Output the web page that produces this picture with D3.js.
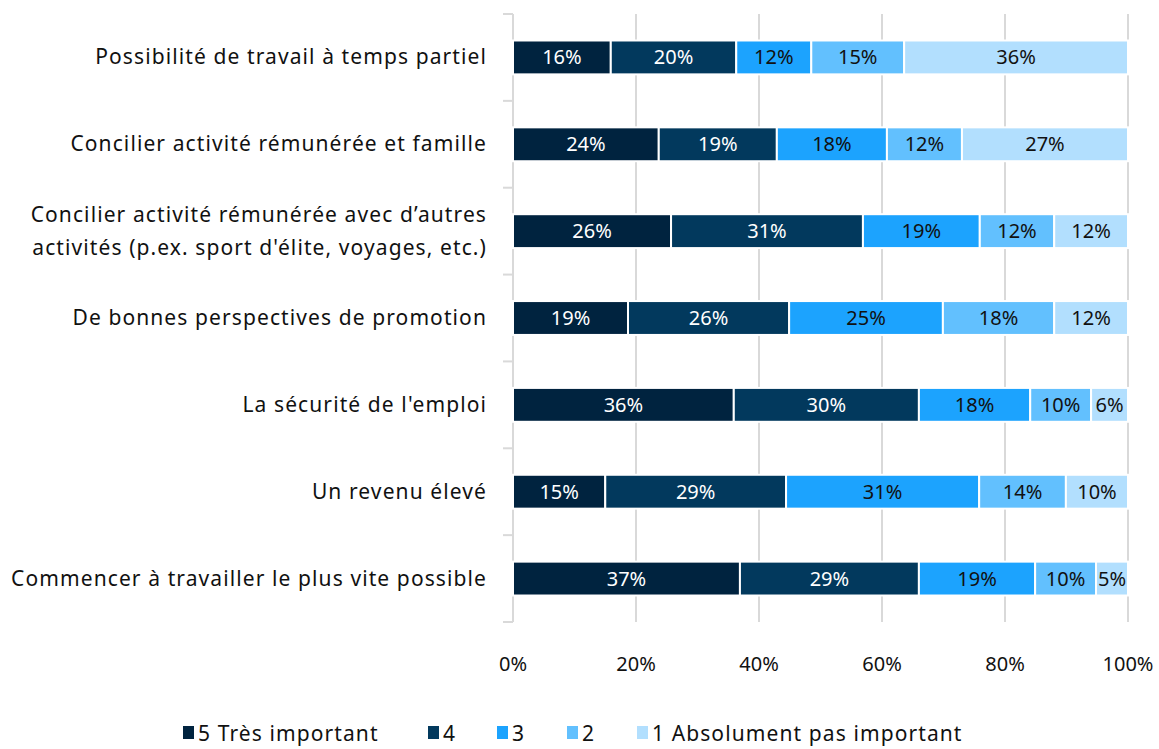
<!DOCTYPE html>
<html>
<head>
<meta charset="utf-8">
<script src="https://cdn.jsdelivr.net/npm/d3@7"></script>
<style>
  body { margin: 0; background: #fff; }
  svg text { font-family: "Noto Sans", "Open Sans", sans-serif; font-weight: 400; }
  .wide { letter-spacing: 1.1px; }
</style>
</head>
<body>
<div id="container"></div>
<script>
// categories, top to bottom
const categories = [
  'Possibilité de travail à temps partiel',
  'Concilier activité rémunérée et famille',
  ['Concilier activité rémunérée avec d\u2019autres', 'activités (p.ex. sport d\'élite, voyages, etc.)'],
  'De bonnes perspectives de promotion',
  'La sécurité de l\'emploi',
  'Un revenu élevé',
  'Commencer à travailler le plus vite possible'
];

// series names (legend)
const seriesNames = ['5 Très important', '4', '3', '2', '1 Absolument pas important'];

// values per series, same order as categories
const s5 = [15.9, 23.7, 25.7, 18.7, 35.9, 15.0, 36.9];
const s4 = [20.4, 19.2, 31.2, 26.2, 30.1, 29.4, 29.1];
const s3 = [12.2, 17.9, 19.0, 25.0, 18.1, 31.4, 18.9];
const s2 = [15.1, 12.2, 12.1, 18.1, 9.9, 14.1, 9.9];
const s1 = [36.4, 27.0, 12.0, 12.0, 6.0, 10.1, 5.2];

const colors = ['#00233f', '#02395d', '#1ca3fe', '#62c0fe', '#b2dffe'];
const labelColors = ['#fff', '#fff', '#111', '#111', '#111'];

const xTicks = [0, 20, 40, 60, 80, 100];

const width = 1159;
const height = 749;
const padding = { top: 14, right: 31, bottom: 127, left: 513 };

const chartArea = {
  width: width - padding.left - padding.right,
  height: height - padding.top - padding.bottom
};

const svg = d3.select('#container').append('svg')
  .attr('width', width)
  .attr('height', height);

// build table for stacking
const series = [s5, s4, s3, s2, s1];
const table = categories.map((c, i) => {
  const row = { idx: i };
  seriesNames.forEach((n, j) => row[n] = series[j][i]);
  return row;
});
const stacked = d3.stack().keys(seriesNames)(table);

const xScale = d3.scaleLinear().domain([0, 100]).range([0, chartArea.width]);
const yScale = d3.scaleBand().domain(d3.range(categories.length)).range([0, chartArea.height]).paddingInner(0.61).paddingOuter(0.305);
const yOuter = d3.scaleBand().domain(d3.range(categories.length)).range([0, chartArea.height]);

const g = svg.append('g').attr('transform', 'translate(' + padding.left + ',' + padding.top + ')');

// vertical gridlines
g.selectAll('.grid')
  .data(xTicks.filter(t => t > 0))
  .enter()
  .append('line')
  .attr('x1', d => xScale(d))
  .attr('x2', d => xScale(d))
  .attr('y1', 0)
  .attr('y2', chartArea.height)
  .attr('stroke', '#d9d9d9')
  .attr('stroke-width', 2);

// category axis line + separator ticks
g.append('line')
  .attr('x1', 0).attr('x2', 0)
  .attr('y1', 0).attr('y2', chartArea.height)
  .attr('stroke', '#d9d9d9').attr('stroke-width', 2);

g.selectAll('.sep')
  .data(d3.range(categories.length + 1))
  .enter()
  .append('line')
  .attr('x1', -10).attr('x2', 0)
  .attr('y1', d => d * yOuter.bandwidth())
  .attr('y2', d => d * yOuter.bandwidth())
  .attr('stroke', '#d9d9d9').attr('stroke-width', 2);

// x axis labels
g.selectAll('.xlab')
  .data(xTicks)
  .enter()
  .append('text')
  .attr('x', d => xScale(d))
  .attr('y', chartArea.height + 49)
  .attr('text-anchor', 'middle')
  .attr('font-size', 20)
  .attr('fill', '#111')
  .text(d => d + '%');

// category labels
categories.forEach((c, i) => {
  const lines = Array.isArray(c) ? c : [c];
  const cy = yOuter(i) + yOuter.bandwidth() / 2;
  const t = g.append('text')
    .attr('class', 'wide')
    .attr('text-anchor', 'end')
    .attr('font-size', 21)
    .attr('fill', '#111');
  lines.forEach((l, k) => {
    t.append('tspan')
      .attr('x', -26)
      .attr('y', cy + 7 + (k - (lines.length - 1) / 2) * 33)
      .text(l);
  });
});

// bars
const layers = g.selectAll('.layer')
  .data(stacked)
  .enter()
  .append('g')
  .attr('fill', (d, i) => colors[i]);

layers.selectAll('rect')
  .data(d => d)
  .enter()
  .append('rect')
  .attr('x', d => xScale(d[0]))
  .attr('y', d => yScale(d.data.idx))
  .attr('width', d => xScale(d[1]) - xScale(d[0]))
  .attr('height', yScale.bandwidth())
  .attr('stroke', '#fff')
  .attr('stroke-width', 2);

// value labels
layers.each(function (layer, i) {
  d3.select(this).selectAll('text')
    .data(layer)
    .enter()
    .append('text')
    .attr('x', d => xScale((d[0] + d[1]) / 2))
    .attr('y', d => yScale(d.data.idx) + yScale.bandwidth() / 2 + 7)
    .attr('text-anchor', 'middle')
    .attr('font-size', 20)
    .attr('fill', labelColors[i])
    .text(d => Math.round(d[1] - d[0]) + '%');
});

// legend
const legendX = [183, 428, 497, 567, 637];
const legend = svg.append('g').attr('transform', 'translate(0,' + (height - 8) + ')');
seriesNames.forEach((n, i) => {
  legend.append('rect')
    .attr('x', legendX[i])
    .attr('y', -15)
    .attr('width', 11)
    .attr('height', 13)
    .attr('fill', colors[i]);
  legend.append('text')
    .attr('class', 'wide')
    .attr('x', legendX[i] + 15)
    .attr('y', 0)
    .attr('font-size', 21)
    .attr('fill', '#111')
    .text(n);
});
</script>
</body>
</html>
